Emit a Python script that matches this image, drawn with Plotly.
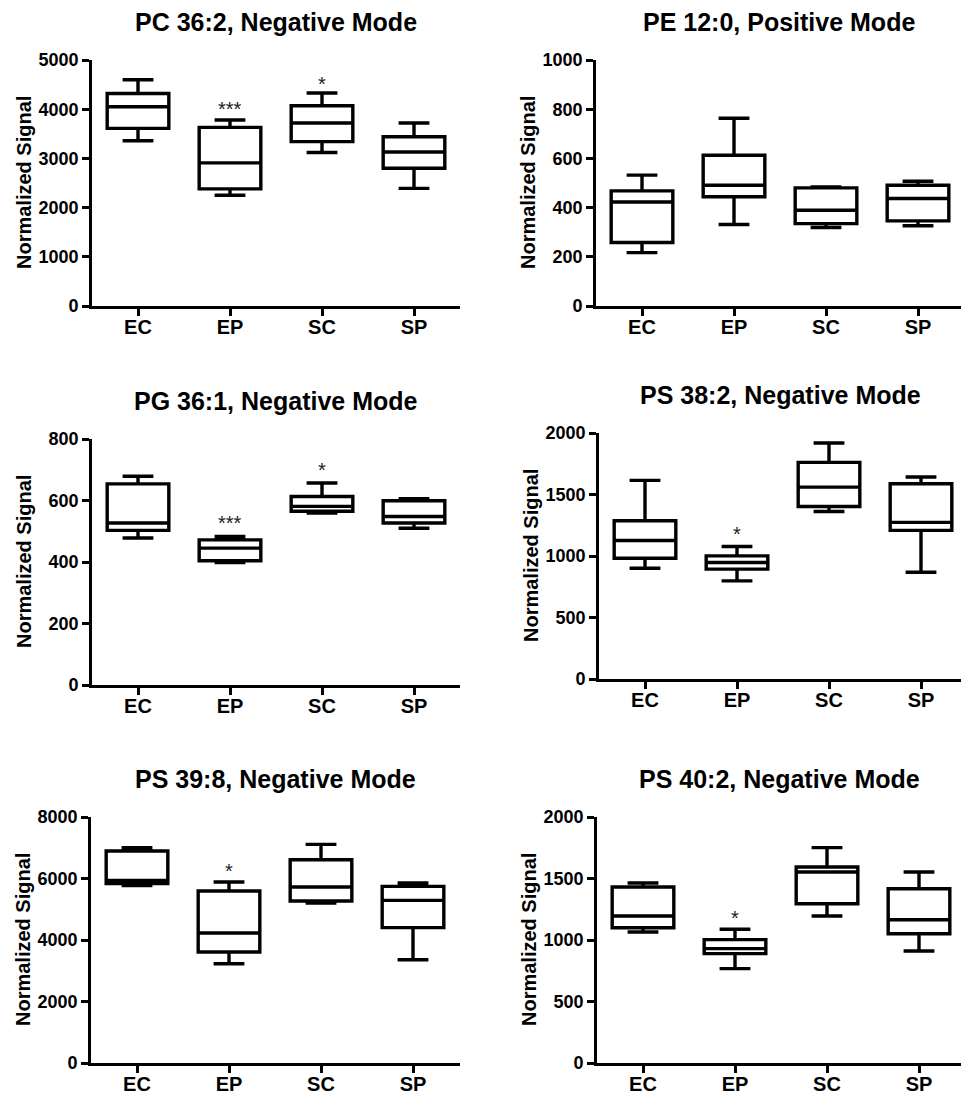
import plotly.graph_objects as go

categories = ["EC", "EP", "SC", "SP"]

# Panel 1: PC 36:2
pc362_lower = [3360, 2250, 3120, 2390]
pc362_q1 = [3610, 2380, 3340, 2800]
pc362_median = [4050, 2910, 3720, 3130]
pc362_q3 = [4320, 3630, 4070, 3440]
pc362_upper = [4600, 3780, 4330, 3720]
pc362_sig = ["", "***", "*", ""]
pc362_sig_y = [None, 4090, 4600, None]

# Panel 2: PE 12:0
pe120_lower = [217, 331, 319, 326]
pe120_q1 = [258, 444, 335, 346]
pe120_median = [423, 491, 389, 437]
pe120_q3 = [468, 613, 480, 491]
pe120_upper = [532, 763, 484, 507]
pe120_sig = ["", "", "", ""]
pe120_sig_y = [None, None, None, None]

# Panel 3: PG 36:1
pg361_lower = [478, 398, 559, 510]
pg361_q1 = [503, 404, 565, 527]
pg361_median = [527, 445, 581, 548]
pg361_q3 = [654, 472, 613, 599]
pg361_upper = [679, 483, 657, 606]
pg361_sig = ["", "***", "*", ""]
pg361_sig_y = [None, 540, 713, None]

# Panel 4: PS 38:2
ps382_lower = [901, 798, 1362, 868]
ps382_q1 = [982, 893, 1403, 1208]
ps382_median = [1126, 947, 1560, 1273]
ps382_q3 = [1286, 1001, 1761, 1588]
ps382_upper = [1615, 1077, 1919, 1642]
ps382_sig = ["", "*", "", ""]
ps382_sig_y = [None, 1213, None, None]

# Panel 5: PS 39:8
ps398_lower = [5767, 3230, 5203, 3360]
ps398_q1 = [5832, 3610, 5268, 4401]
ps398_median = [5940, 4228, 5724, 5290]
ps398_q3 = [6894, 5593, 6612, 5745]
ps398_upper = [7003, 5886, 7111, 5854]
ps398_sig = ["", "*", "", ""]
ps398_sig_y = [None, 6374, None, None]

# Panel 6: PS 40:2
ps402_lower = [1065, 767, 1195, 911]
ps402_q1 = [1100, 889, 1295, 1051]
ps402_median = [1195, 930, 1553, 1165]
ps402_q3 = [1431, 1003, 1593, 1417]
ps402_upper = [1463, 1087, 1751, 1553]
ps402_sig = ["", "*", "", ""]
ps402_sig_y = [None, 1214, None, None]

titles = ["PC 36:2, Negative Mode", "PE 12:0, Positive Mode",
          "PG 36:1, Negative Mode", "PS 38:2, Negative Mode",
          "PS 39:8, Negative Mode", "PS 40:2, Negative Mode"]
y_max = [5000, 1000, 800, 2000, 8000, 2000]
y_dtick = [1000, 200, 200, 500, 2000, 500]

panels = [
    (pc362_lower, pc362_q1, pc362_median, pc362_q3, pc362_upper, pc362_sig, pc362_sig_y),
    (pe120_lower, pe120_q1, pe120_median, pe120_q3, pe120_upper, pe120_sig, pe120_sig_y),
    (pg361_lower, pg361_q1, pg361_median, pg361_q3, pg361_upper, pg361_sig, pg361_sig_y),
    (ps382_lower, ps382_q1, ps382_median, ps382_q3, ps382_upper, ps382_sig, ps382_sig_y),
    (ps398_lower, ps398_q1, ps398_median, ps398_q3, ps398_upper, ps398_sig, ps398_sig_y),
    (ps402_lower, ps402_q1, ps402_median, ps402_q3, ps402_upper, ps402_sig, ps402_sig_y),
]

W, H = 961, 1094
# plot-area pixel boxes (left, right, top, bottom)
boxes = [
    (92, 460, 60, 306), (596, 961, 60, 306),
    (92, 460, 439, 685), (599, 961, 433, 679),
    (91, 460, 817, 1063), (597, 961, 817, 1063),
]
SPACING = 92.0

FONT = "Liberation Sans, Arial, sans-serif"
fig = go.Figure()
annotations = []

for i, (lo, q1, med, q3, up, sig, sig_y) in enumerate(panels):
    n = i + 1
    xa = "x" if n == 1 else f"x{n}"
    ya = "y" if n == 1 else f"y{n}"
    fig.add_trace(go.Box(
        x=categories, lowerfence=lo, q1=q1, median=med, q3=q3, upperfence=up,
        xaxis=xa, yaxis=ya, boxpoints=False, width=0.67, whiskerwidth=0.5,
        line=dict(color="black", width=3.4), fillcolor="rgba(0,0,0,0)",
        showlegend=False, hoverinfo="skip"))
    l, r, t, b = boxes[i]
    x_end = -0.5 + (r - l) / SPACING
    axis_common = dict(showline=True, linecolor="black", linewidth=2.7,
                       ticks="outside", ticklen=7, tickwidth=2.7, tickcolor="black",
                       showgrid=False, zeroline=False, automargin=False)
    fig.update_layout(**{
        ("xaxis" if n == 1 else f"xaxis{n}"): dict(
            domain=[l / W, r / W], anchor=ya, type="category",
            categoryorder="array", categoryarray=categories,
            range=[-0.5, x_end], ticklabelstandoff=-6,
            tickfont=dict(family=FONT, size=20, color="black", weight="bold"),
            **axis_common),
        ("yaxis" if n == 1 else f"yaxis{n}"): dict(
            domain=[1 - b / H, 1 - t / H], anchor=xa,
            range=[0, y_max[i]], dtick=y_dtick[i], tick0=0,
            tickfont=dict(family=FONT, size=18, color="black", weight="bold"),
            **axis_common),
    })
    annotations.append(dict(
        text=f"<b>{titles[i]}</b>", xref=f"{xa} domain", yref=f"{ya} domain",
        x=0.5, y=1, yshift=38,
        xanchor="center", yanchor="middle", showarrow=False,
        font=dict(family=FONT, size=25, color="black")))
    annotations.append(dict(
        text="<b>Normalized Signal</b>", xref=f"{xa} domain", yref=f"{ya} domain",
        x=0, y=0.5, xshift=-68, textangle=-90,
        xanchor="center", yanchor="middle", showarrow=False,
        font=dict(family=FONT, size=20, color="black")))
    for c, s, sy in zip(categories, sig, sig_y):
        if s:
            annotations.append(dict(
                text=s, xref=xa, yref=ya, x=c, y=sy, yshift=-4,
                xanchor="center", yanchor="middle", showarrow=False,
                font=dict(family=FONT, size=20, color="#222222")))

fig.update_layout(width=W, height=H, margin=dict(l=0, r=0, t=0, b=0),
                  paper_bgcolor="white", plot_bgcolor="white",
                  annotations=annotations, showlegend=False)

fig.write_html("out.html", config={"displayModeBar": False},
               post_script="document.body.style.margin='0';document.body.style.padding='0';")
